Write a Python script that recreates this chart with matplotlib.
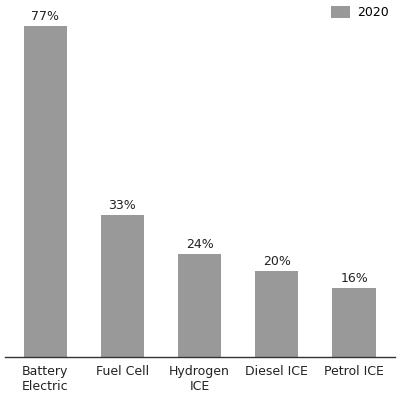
import matplotlib
matplotlib.use("Agg")
import matplotlib.pyplot as plt

categories = ["Battery\nElectric", "Fuel Cell", "Hydrogen\nICE", "Diesel ICE", "Petrol ICE"]
values_2020 = [77, 33, 24, 20, 16]
series_name = "2020"

plt.rcParams['font.family'] = ['DejaVu Sans']

fig = plt.figure(figsize=(4, 4.04), dpi=100)
ax = fig.add_axes([5 / 400, 47 / 404, 390 / 400, 357 / 404])

x = list(range(len(categories)))
bars = ax.bar(x, values_2020, width=0.56, color="#999999", label=series_name)

for b, v in zip(bars, values_2020):
    ax.text(b.get_x() + b.get_width() / 2, v + 0.7, f"{v}%",
            ha="center", va="bottom", fontsize=9, color="#222222")

ax.set_xlim(-0.52, 4.53)
ax.set_ylim(0, 83)
ax.set_xticks(x)
ax.set_xticklabels(categories, fontsize=9, color="#222222", linespacing=1.15)
ax.tick_params(axis="x", length=0, pad=6)
ax.set_yticks([])
for s in ["top", "right", "left"]:
    ax.spines[s].set_visible(False)
ax.spines["bottom"].set_color("#333333")
ax.spines["bottom"].set_linewidth(1.0)

ax.legend(loc="upper right", bbox_to_anchor=(1.0, 1.0), frameon=False,
          fontsize=9, handlelength=1.5, handleheight=1.1, borderaxespad=0.1,
          handletextpad=0.6)

fig.savefig("out.png", dpi=100)
